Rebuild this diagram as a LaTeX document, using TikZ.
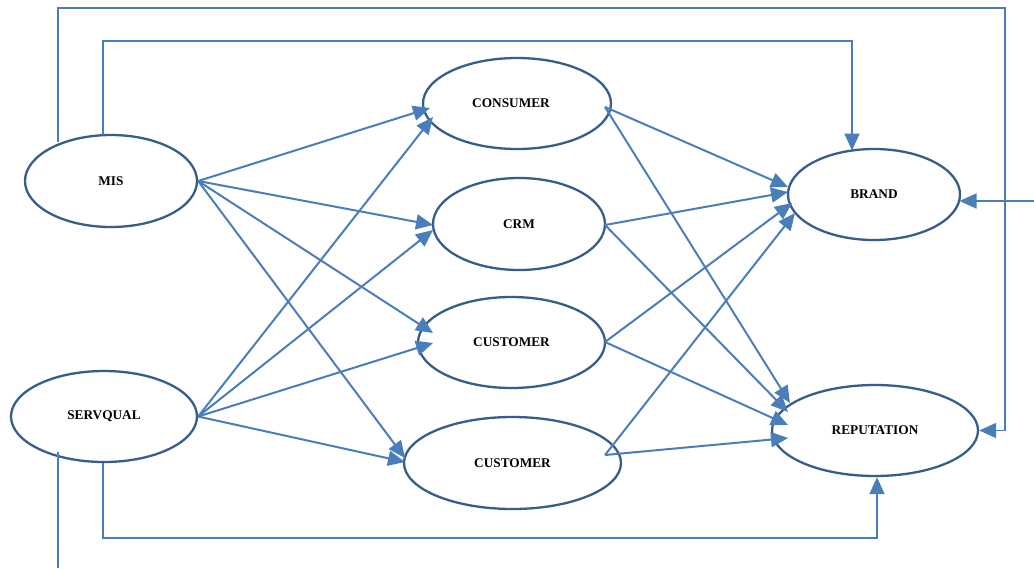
\documentclass[tikz,border=0pt]{standalone}
\usepackage{fontspec}
\setmainfont{Liberation Serif}
\usetikzlibrary{shapes.geometric,arrows.meta,calc}
\definecolor{linkblue}{RGB}{74,126,187}
\definecolor{ovalblue}{RGB}{56,93,138}
\begin{document}
\begin{tikzpicture}[x=1pt,y=-1pt,
  oval/.style={ellipse,draw=ovalblue,line width=2.3pt,inner sep=0pt,fill=white,
    font=\bfseries\fontsize{13.3}{15}\selectfont},
  link/.style={draw=linkblue,line width=2pt,-{Triangle[length=17pt,width=15pt]}},
  fb/.style={draw=linkblue,line width=1.6pt},
  fbarrow/.style={fb,-{Triangle[length=17pt,width=15pt]}}]
\fill[white] (0,0) rectangle (1034,568);
\useasboundingbox (0,0) rectangle (1034,568);

% nodes
\node[oval,minimum width=172pt,minimum height=92pt] (mis)  at (111,181)   {MIS};
\node[oval,minimum width=186pt,minimum height=91pt] (serv) at (104,416.5) {SERVQUAL};
\node[oval,minimum width=188pt,minimum height=91pt] (cons) at (517,103.5) {\kern-12pt CONSUMER};
\node[oval,minimum width=172pt,minimum height=92pt] (crm)  at (519,224)   {CRM};
\node[oval,minimum width=187pt,minimum height=91pt] (cusa) at (511.5,342.5) {CUSTOMER};
\node[oval,minimum width=217pt,minimum height=92pt] (cusb) at (512.5,463) {CUSTOMER};
\node[oval,minimum width=172pt,minimum height=91pt] (brand) at (874,194.5) {BRAND};
\node[oval,minimum width=206pt,minimum height=91pt] (reput) at (875,430.5) {REPUTATION};

% free ends / corners
\coordinate (topR)  at (1005,8);
\coordinate (midR)  at (852,41);
\coordinate (botR)  at (877,538);
\coordinate (edgeR) at (1034,201);
\coordinate (edgeB) at (58,568);

% feedback lines
\draw[fbarrow] ($(mis.center)+(-53,-39)$) |- (topR) |- (reput.east);
\draw[fbarrow] ($(mis.center)+(-8,-46)$) |- (midR) -- ($(brand.center)+(-22,-44)$);
\draw[fbarrow] (edgeR) -- ($(brand.center)+(85.5,6.5)$);
\draw[fbarrow] ($(serv.south)+(-1,0)$) |- (botR) -- ($(reput.south)+(2,0)$);
\draw[fb] ($(serv.center)+(-46,35.5)$) -- (edgeB);

% MIS
\draw[link] (mis.east) -- ($(cons.center)+(-87,4.5)$);
\draw[link] (mis.east) -- ($(crm.center)+(-86,1)$);
\draw[link] (mis.east) -- ($(cusa.center)+(-78.5,-9.5)$);
\draw[link] (mis.east) -- ($(cusb.center)+(-107.5,-5)$);
% SERVQUAL
\draw[link] (serv.east) -- ($(cons.center)+(-84,13.5)$);
\draw[link] (serv.east) -- ($(crm.center)+(-86,6)$);
\draw[link] (serv.east) -- ($(cusa.center)+(-78.5,0.5)$);
\draw[link] (serv.east) -- ($(cusb.center)+(-107.5,-1)$);
% middle to outcomes
\draw[link] ($(cons.center)+(88,3.5)$) -- ($(brand.center)+(-86,-7.5)$);
\draw[link] ($(cons.center)+(88,3.5)$) -- ($(reput.center)+(-85,-27.5)$);
\draw[link] ($(crm.center)+(86,1)$) -- ($(brand.center)+(-86,-2.5)$);
\draw[link] ($(crm.center)+(86,1)$) -- ($(reput.center)+(-87,-18.5)$);
\draw[link] ($(cusa.center)+(93.5,-0.5)$) -- ($(brand.center)+(-82,8.5)$);
\draw[link] ($(cusa.center)+(93.5,-0.5)$) -- ($(reput.center)+(-87,-5.5)$);
\draw[link] ($(cusb.center)+(92.5,-8)$) -- ($(brand.center)+(-79,18.5)$);
\draw[link] ($(cusb.center)+(92.5,-8)$) -- ($(reput.center)+(-87,7.5)$);
\end{tikzpicture}
\end{document}
